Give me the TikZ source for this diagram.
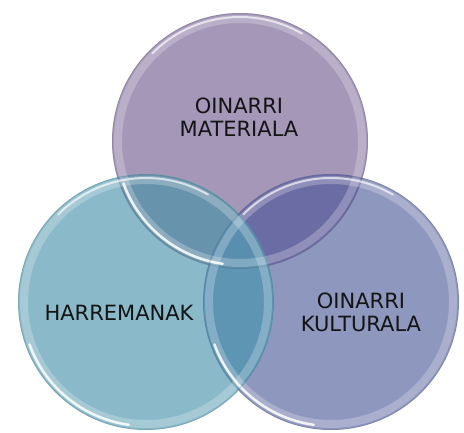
\documentclass[tikz,border=0pt]{standalone}
\usepackage{fontspec}
\setsansfont{DejaVu Sans}
\usepackage{tikz}
\usetikzlibrary{positioning,calc}
\definecolor{matc}{HTML}{A497B8}
\definecolor{harc}{HTML}{8ABACA}
\definecolor{kulc}{HTML}{8E97BE}
\definecolor{mhc}{HTML}{6893AC}
\definecolor{mkc}{HTML}{6C6CA4}
\definecolor{hkc}{HTML}{5E95B3}
\definecolor{allc}{HTML}{5A8EAF}

\begin{document}
\begin{tikzpicture}[x=1pt, y=1pt,
   font=\sffamily\fontsize{21}{23}\selectfont,
   label/.style={align=center, text=black!92}]
  \useasboundingbox (0,0) rectangle (464,432);
  \def\rad{128pt}
  \coordinate (cm) at (240,291);
  \coordinate (ch) at (146,130);
  \coordinate (ck) at (331,130);
  % plain discs
  \fill[matc] (cm) circle[radius=\rad];
  \fill[kulc] (ck) circle[radius=\rad];
  \fill[harc] (ch) circle[radius=\rad];
  % overlaps
  \begin{scope}
    \clip (cm) circle[radius=\rad];
    \fill[mhc] (ch) circle[radius=\rad];
    \fill[mkc] (ck) circle[radius=\rad];
  \end{scope}
  \begin{scope}
    \clip (ch) circle[radius=\rad];
    \fill[hkc] (ck) circle[radius=\rad];
    \clip (cm) circle[radius=\rad];
    \fill[allc] (ck) circle[radius=\rad];
  \end{scope}
  % glossy rims
  \foreach \c/\col in {cm/matc, ck/kulc, ch/harc} {
    \draw[white, opacity=.24, line width=8pt] (\c) circle[radius=\rad-6pt];
    \draw[\col!65!black, opacity=.3, line width=.8pt] (\c) circle[radius=\rad-.5pt];
    \draw[white, opacity=.65, line width=2pt, line cap=round]
      ($(\c)+(135:\rad-4pt)$) arc[start angle=135, end angle=60, radius=\rad-4pt];
    \draw[white, opacity=.85, line width=2.5pt, line cap=round]
      ($(\c)+(200:\rad-4pt)$) arc[start angle=200, end angle=262, radius=\rad-4pt];
  }
  \node[label] (mat) at (239,315) {OINARRI\\MATERIALA};
  \node[label] (har) at (119,119) {HARREMANAK};
  \node[label] (kul) at (361,120) {OINARRI\\KULTURALA};
\end{tikzpicture}
\end{document}
